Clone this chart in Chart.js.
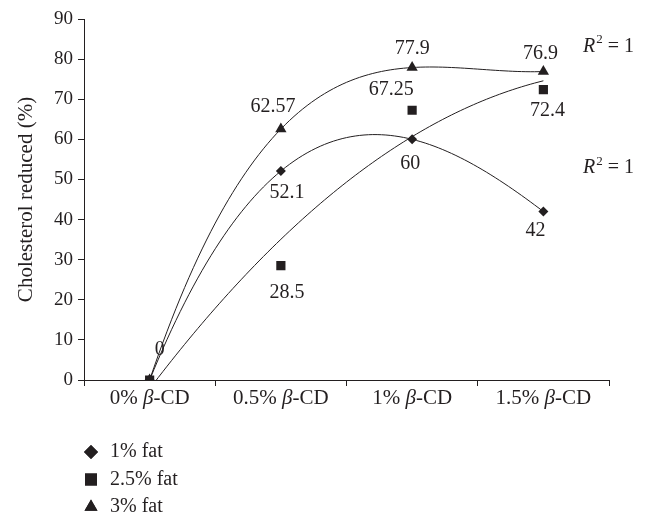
<!DOCTYPE html>
<html>
<head>
<meta charset="utf-8">
<script src="https://cdn.jsdelivr.net/npm/chart.js@4/dist/chart.umd.min.js"></script>
<style>
  html, body { margin: 0; padding: 0; background: #fff; }
  #wrap { width: 651px; height: 517px; }
</style>
</head>
<body>
<div id="wrap"><canvas id="chart" width="651" height="517"></canvas></div>
<script>
// data
var categories = ['0% β-CD', '0.5% β-CD', '1% β-CD', '1.5% β-CD'];
var seriesNames = ['1% fat', '2.5% fat', '3% fat'];
var fat1 = [0, 52.1, 60, 42];
var fat25 = [0, 28.5, 67.25, 72.4];
var fat3 = [0, 62.57, 77.9, 76.9];
var trendDegree = [3, 2, 3];          // excel trendline order per series
var yMin = 0, yMax = 90, yStep = 10;
var r2Text = ['R', '2', ' = 1'];
var r2Values = [83, 52.8];            // y level where the R² notes sit

var ink = '#231f20';
var serif = "'Liberation Serif', 'DejaVu Serif', serif";
var series = [fat1, fat25, fat3];
var styles = ['rectRot', 'rect', 'triangle'];
var radii = [5, 6.5, 6.5];
var legendRadii = [7, 8.5, 7.5];

// label offsets (px) from each marker, null = no label
var labelOffsets = [
    [null, [6, 22], [-2, 24], [-8, 19]],
    [null, [6, 27], [-21, -21], [4, 21]],
    [[10, -30], [-8, -22], [0, -19], [-3, -18]]
];

// least squares polynomial fit, same as the excel trendline
function polyfit(xs, ys, deg) {
    var n = deg + 1, A = [], b = [];
    for (var i = 0; i < n; i++) {
        A.push([]);
        b.push(0);
        for (var j = 0; j < n; j++) {
            var s = 0;
            for (var k = 0; k < xs.length; k++) s += Math.pow(xs[k], i + j);
            A[i].push(s);
        }
        for (var k = 0; k < xs.length; k++) b[i] += ys[k] * Math.pow(xs[k], i);
    }
    for (var c = 0; c < n; c++) {
        var p = c;
        for (var r = c + 1; r < n; r++) if (Math.abs(A[r][c]) > Math.abs(A[p][c])) p = r;
        var t = A[c]; A[c] = A[p]; A[p] = t;
        t = b[c]; b[c] = b[p]; b[p] = t;
        for (var r = c + 1; r < n; r++) {
            var f = A[r][c] / A[c][c];
            for (var j = c; j < n; j++) A[r][j] -= f * A[c][j];
            b[r] -= f * b[c];
        }
    }
    var coef = new Array(n);
    for (var i = n - 1; i >= 0; i--) {
        var s = b[i];
        for (var j = i + 1; j < n; j++) s -= A[i][j] * coef[j];
        coef[i] = s / A[i][i];
    }
    return coef;
}

function trendPoints(ys, deg) {
    var xs = ys.map(function (v, i) { return i; });
    var coef = polyfit(xs, ys, deg);
    var pts = [];
    for (var s = 0; s <= 90; s++) {
        var x = s * (xs.length - 1) / 90, y = 0;
        for (var i = 0; i < coef.length; i++) y += coef[i] * Math.pow(x, i);
        pts.push({x: x, y: y});
    }
    return pts;
}

var datasets = [];
series.forEach(function (vals, i) {
    datasets.push({
        label: seriesNames[i],
        data: vals,
        xAxisID: 'x',
        showLine: false,
        pointStyle: styles[i],
        pointRadius: radii[i],
        pointBackgroundColor: ink,
        pointBorderColor: ink,
        pointBorderWidth: 0,
        order: 0
    });
});
series.forEach(function (vals, i) {
    datasets.push({
        label: 'trend ' + seriesNames[i],
        data: trendPoints(vals, trendDegree[i]),
        xAxisID: 'xFit',
        borderColor: ink,
        borderWidth: 1,
        pointRadius: 0,
        tension: 0,
        order: 1
    });
});

function drawBeta(ctx, text, cx, cy, size) {
    var parts = text.split('β');
    var fn = size + 'px ' + serif, fi = 'italic ' + size + 'px ' + serif;
    ctx.font = fn; var w0 = ctx.measureText(parts[0]).width, w2 = ctx.measureText(parts[1]).width;
    ctx.font = fi; var w1 = ctx.measureText('β').width;
    var x = cx - (w0 + w1 + w2) / 2;
    ctx.textAlign = 'left';
    ctx.font = fn; ctx.fillText(parts[0], x, cy);
    ctx.font = fi; ctx.fillText('β', x + w0, cy);
    ctx.font = fn; ctx.fillText(parts[1], x + w0 + w1, cy);
}

var annotations = {
    id: 'annotations',
    afterDraw: function (chart) {
        var ctx = chart.ctx, xs = chart.scales.x, ys = chart.scales.y;
        ctx.save();
        ctx.fillStyle = ink;
        ctx.textBaseline = 'middle';

        // category labels with italic beta
        categories.forEach(function (c, i) {
            drawBeta(ctx, c, xs.getPixelForValue(i), ys.bottom + 18, 21);
        });

        // value labels
        ctx.font = '20px ' + serif;
        ctx.textAlign = 'center';
        series.forEach(function (vals, s) {
            vals.forEach(function (v, i) {
                var off = labelOffsets[s][i];
                if (!off) return;
                ctx.fillText(String(v), xs.getPixelForValue(i) + off[0], ys.getPixelForValue(v) + off[1]);
            });
        });

        // R² notes
        r2Values.forEach(function (v) {
            var x = 583, y = ys.getPixelForValue(v);
            ctx.textAlign = 'left';
            ctx.font = 'italic 20px ' + serif;
            ctx.fillText(r2Text[0], x, y);
            var w = ctx.measureText(r2Text[0]).width;
            ctx.font = '13px ' + serif;
            ctx.fillText(r2Text[1], x + w + 1, y - 7);
            var w2 = ctx.measureText(r2Text[1]).width;
            ctx.font = '20px ' + serif;
            ctx.fillText(r2Text[2], x + w + w2 + 1, y);
        });

        // legend, one row per series
        seriesNames.forEach(function (name, i) {
            var y = 452 + i * 27.5;
            Chart.helpers.drawPoint(ctx, {pointStyle: styles[i], radius: legendRadii[i], borderWidth: 0}, 91, y);
            ctx.fill();
            ctx.font = '20px ' + serif;
            ctx.textAlign = 'left';
            ctx.fillText(name, 110, y);
        });
        ctx.restore();
    }
};

new Chart(document.getElementById('chart'), {
    type: 'line',
    data: {labels: categories, datasets: datasets},
    options: {
        responsive: false,
        animation: false,
        layout: {padding: {top: 19, right: 42, left: 0, bottom: 0}},
        plugins: {legend: {display: false}, tooltip: {enabled: false}},
        scales: {
            x: {
                type: 'category',
                offset: true,
                grid: {offset: true, drawOnChartArea: false, tickLength: 6, color: ink},
                border: {color: ink, width: 1},
                ticks: {display: false},
                afterFit: function (s) { s.height = 137; }
            },
            xFit: {type: 'linear', min: -0.5, max: 3.5, display: false},
            y: {
                min: yMin,
                max: yMax,
                ticks: {stepSize: yStep, color: ink, padding: 5, font: {family: serif, size: 19}},
                grid: {drawOnChartArea: false, tickLength: 6, color: ink},
                border: {color: ink, width: 1},
                title: {display: true, text: 'Cholesterol reduced (%)', color: ink,
                        font: {family: serif, size: 21}, padding: {top: 14, bottom: 0}},
                afterFit: function (s) { s.width = 84; }
            }
        }
    },
    plugins: [annotations]
});
</script>
</body>
</html>
